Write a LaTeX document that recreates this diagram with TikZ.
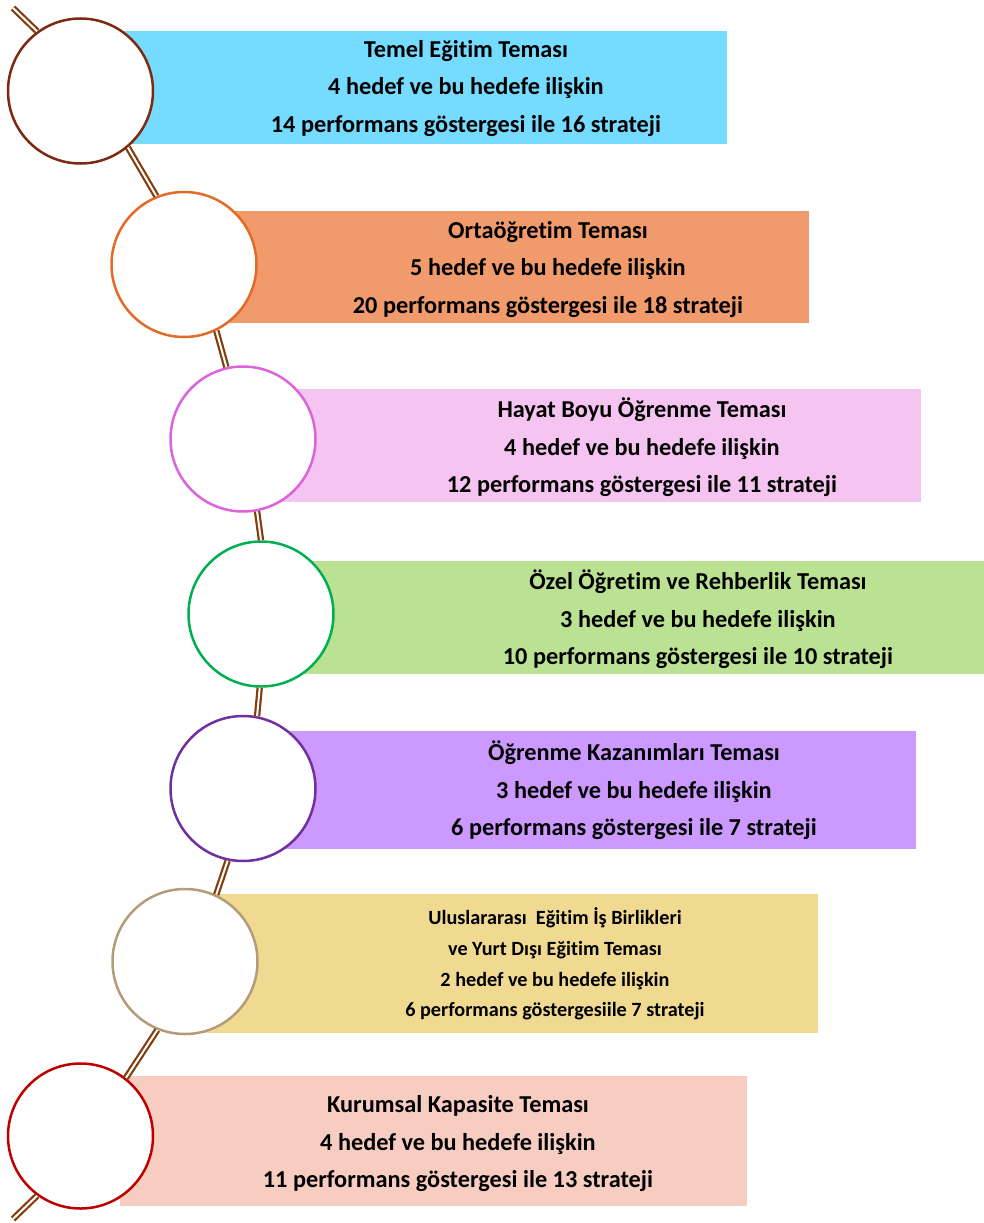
\documentclass[tikz,border=0pt]{standalone}
\usepackage{fontspec}
\setmainfont{Carlito}[Ligatures=NoCommon]

\definecolor{linkbrown}{HTML}{843C0C}
\definecolor{ringA}{HTML}{7E2A10}
\definecolor{ringB}{HTML}{E26B27}
\definecolor{ringC}{HTML}{DD63DD}
\definecolor{ringD}{HTML}{00B050}
\definecolor{ringE}{HTML}{7030A0}
\definecolor{ringF}{HTML}{B49C7A}
\definecolor{ringG}{HTML}{C00000}
\definecolor{boxA}{HTML}{75DBFF}
\definecolor{boxB}{HTML}{F19A6B}
\definecolor{boxC}{HTML}{F6C4F0}
\definecolor{boxD}{HTML}{BBE192}
\definecolor{boxE}{HTML}{CC99FF}
\definecolor{boxF}{HTML}{F0DA91}
\definecolor{boxG}{HTML}{F8CDC1}

\tikzset{
  ring/.style={circle,draw=#1,line width=2.5pt,fill=white,minimum size=145pt,inner sep=0pt},
  theme/.style={align=center,font=\fontsize{24.3}{37.5}\selectfont\bfseries},
  themesmall/.style={align=center,font=\fontsize{20.2}{30.6}\selectfont\bfseries},
  link/.style={draw=linkbrown,line width=2.2pt,double=white,double distance=2pt}
}

\begin{document}
\begin{tikzpicture}[x=1pt,y=-1pt]
  \useasboundingbox (0,0) rectangle (984,1223);
  % boxes
  \fill [boxA] (120,31) rectangle (727,144);
  \fill [boxB] (200,211) rectangle (809,323);
  \fill [boxC] (260,389) rectangle (921,502);
  \fill [boxD] (280,561) rectangle (990,674);
  \fill [boxE] (260,731) rectangle (916,849);
  \fill [boxF] (200,894) rectangle (818,1033);
  \fill [boxG] (120,1076) rectangle (747,1206);
  % rings
  \node [ring=ringA] (c1) at (80.5,91) {};
  \node [ring=ringB] (c2) at (184,264.5) {};
  \node [ring=ringC] (c3) at (243,439) {};
  \node [ring=ringD] (c4) at (261,614) {};
  \node [ring=ringE] (c5) at (243,788.5) {};
  \node [ring=ringF] (c6) at (185,961.5) {};
  \node [ring=ringG] (c7) at (80.5,1136) {};
  \coordinate (top) at (13,8);
  \coordinate (bottom) at (13,1219);
  % links
  \draw [link] (top) -- (c1.126);
  \draw [link] (c1.-50) -- (c2.112);
  \draw [link] (c2.-64) -- (c3.103);
  \draw [link] (c3.-79) -- (c4.90);
  \draw [link] (c4.-91) -- (c5.79);
  \draw [link] (c5.-102) -- (c6.65);
  \draw [link] (c6.-112) -- (c7.52);
  \draw [link] (c7.-126) -- (bottom);
  % texts
  \node [theme] (t1) at (466,88.5) {Temel Eğitim Teması\\4 hedef ve bu hedefe ilişkin\\14 performans göstergesi ile 16 strateji};
  \node [theme] (t2) at (548,269.5) {Ortaöğretim Teması\\5 hedef ve bu hedefe ilişkin\\20 performans göstergesi ile 18 strateji};
  \node [theme] (t3) at (642,447.5) {Hayat Boyu Öğrenme Teması\\4 hedef ve bu hedefe ilişkin\\12 performans göstergesi ile 11 strateji};
  \node [theme] (t4) at (698,619.5) {Özel Öğretim ve Rehberlik Teması\\3 hedef ve bu hedefe ilişkin\\10 performans göstergesi ile 10 strateji};
  \node [theme] (t5) at (634,790.5) {Öğrenme Kazanımları Teması\\3 hedef ve bu hedefe ilişkin\\6 performans göstergesi ile 7 strateji};
  \node [themesmall] (t6) at (555,964) {Uluslararası\ \ Eğitim İş Birlikleri\\ve Yurt Dışı Eğitim Teması\\2 hedef ve bu hedefe ilişkin\\6 performans göstergesiile 7 strateji};
  \node [theme] (t7) at (458,1144) {Kurumsal Kapasite Teması\\4 hedef ve bu hedefe ilişkin\\11 performans göstergesi ile 13 strateji};
\end{tikzpicture}
\end{document}
